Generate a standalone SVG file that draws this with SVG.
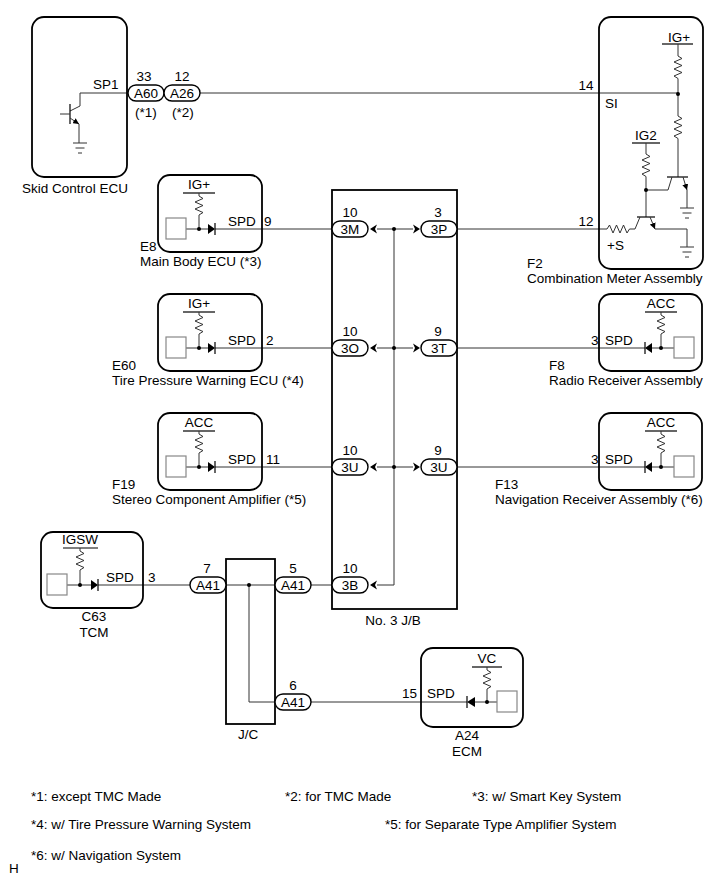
<svg xmlns="http://www.w3.org/2000/svg" width="713" height="882" viewBox="0 0 713 882">
<style>
.t{font-family:"Liberation Sans",Arial,sans-serif;font-size:13.5px;fill:#000}
.m{text-anchor:middle}
.w{stroke:#333;stroke-width:1;fill:none}
.box{stroke:#000;stroke-width:1.8;fill:none}
.pill{stroke:#000;stroke-width:1.4;fill:#fff}
.sq{stroke:#888;stroke-width:1.2;fill:#fff}
.bar{stroke:#000;stroke-width:1.2}
.dot{fill:#000}
.gnd{stroke:#333;stroke-width:1}
</style>
<defs>
<marker id="ea" markerWidth="6" markerHeight="6" refX="6" refY="3" orient="auto" markerUnits="userSpaceOnUse"><path d="M0,0 L6,3 L0,6 z" fill="#000"/></marker>
<path id="jl" d="M0,0 L7,-4.5 L5,0 L7,4.5 z" fill="#000"/>
<path id="jr" d="M0,0 L-7,-4.5 L-5,0 L-7,4.5 z" fill="#000"/>
</defs>
<rect width="713" height="882" fill="#fff"/>

<g id="connectors">
<path class="w" d="M80,93 H128"/>
<path class="w" d="M200,93 H678"/>
<path class="w" d="M215,229 H332 M377,229 H413 M457,229 H607"/>
<path class="w" d="M215,348 H332 M377,348 H413 M457,348 H645"/>
<path class="w" d="M215,467 H332 M377,467 H413 M457,467 H645"/>
<path class="w" d="M394,229 V585 H377"/>
<path class="w" d="M98,585 H190 M226,585 H275 M311,585 H332"/>
<path class="w" d="M249,585 V702 H275 M311,702 H467"/>
<circle class="dot" cx="394" cy="229" r="2"/>
<circle class="dot" cx="394" cy="348" r="2"/>
<circle class="dot" cx="394" cy="467" r="2"/>
<circle class="dot" cx="249" cy="585" r="2"/>
</g>

<g id="skid-control-ecu">
<rect class="box" x="32" y="17" width="95" height="160" rx="12"/>
<text class="t" x="93" y="89">SP1</text>
<path class="w" d="M80,93 V106 L70,111"/>
<line class="bar" x1="70" y1="104" x2="70" y2="124" stroke-width="1.5"/>
<path class="w" d="M60,114 H70"/>
<line class="w" x1="70" y1="118" x2="79" y2="124" marker-end="url(#ea)"/>
<path class="w" d="M79,124 V143"/>
<path class="gnd" d="M73,143 H87 M75.5,148 H84.5 M78,153 H82"/>
<text class="t m" x="75" y="193">Skid Control ECU</text>
</g>

<g id="conn-a60">
<rect class="pill" x="128" y="85" width="36" height="16" rx="8"/>
<text class="t m" x="146" y="98">A60</text>
<text class="t m" x="144" y="81">33</text>
<text class="t m" x="146" y="117">(*1)</text>
</g>
<g id="conn-a26">
<rect class="pill" x="164" y="85" width="36" height="16" rx="8"/>
<text class="t m" x="182" y="98">A26</text>
<text class="t m" x="182" y="81">12</text>
<text class="t m" x="183" y="117">(*2)</text>
</g>

<g id="combination-meter">
<rect class="box" x="599" y="17" width="104" height="252" rx="12"/>
<text class="t m" x="679" y="42">IG+</text>
<line class="bar" x1="662" y1="44" x2="693" y2="44"/>
<path class="w" d="M678,44 V56 l4,2.5 l-8,3.5 l8,3.5 l-8,3.5 l8,3.5 l-8,3.5 l4,2.5 V116 l4,2.5 l-8,3.5 l8,3.5 l-8,3.5 l8,3.5 l-8,3.5 l4,2.5 V177"/>
<circle class="dot" cx="678" cy="94" r="2"/>
<text class="t m" x="586" y="90">14</text>
<text class="t" x="605" y="108">SI</text>
<line class="bar" x1="667" y1="177" x2="688" y2="177" stroke-width="1.6"/>
<path class="w" d="M672,177 L668,190 H646"/>
<line class="w" x1="683" y1="177" x2="687" y2="190" marker-end="url(#ea)"/>
<path class="w" d="M687,190 V208"/>
<path class="gnd" d="M680,208 H694 M682.5,213 H691.5 M685,218 H689"/>
<text class="t m" x="646" y="140">IG2</text>
<line class="bar" x1="632" y1="143" x2="660" y2="143"/>
<path class="w" d="M646,143 V154 l4,2.5 l-8,3.5 l8,3.5 l-8,3.5 l8,3.5 l-8,3.5 l4,2.5 V217"/>
<circle class="dot" cx="646" cy="190" r="2"/>
<line class="bar" x1="637" y1="217" x2="655" y2="217" stroke-width="1.6"/>
<path class="w" d="M607,229 l2.5,-4 l3.5,8 l3.5,-8 l3.5,8 l3.5,-8 l3.5,8 l2.5,-4 H635 L640,217"/>
<line class="w" x1="650" y1="217" x2="655" y2="229" marker-end="url(#ea)"/>
<path class="w" d="M655,229 H687 V247"/>
<path class="gnd" d="M680,247 H694 M682.5,252 H691.5 M685,257 H689"/>
<text class="t m" x="586" y="226">12</text>
<text class="t" x="607" y="250">+S</text>
<text class="t" x="527" y="268">F2</text>
<text class="t" x="527" y="283">Combination Meter Assembly</text>
</g>

<g id="main-body-ecu">
<rect class="box" x="158" y="175" width="104" height="77" rx="12"/>
<text class="t m" x="199" y="189">IG+</text>
<line class="bar" x1="183" y1="193" x2="215" y2="193"/>
<path class="w" d="M199,193 V196 l4,2.5 l-8,3.5 l8,3.5 l-8,3.5 l8,3.5 l-4,2.5 V229 M186,229 H208"/>
<rect class="sq" x="166" y="218" width="20" height="21"/>
<circle class="dot" cx="199" cy="229" r="2"/>
<path d="M208,224 L208,234 L215,229 z" fill="#000"/>
<line class="bar" x1="215" y1="223" x2="215" y2="235"/>
<text class="t" x="228" y="226">SPD</text>
<text class="t" x="264" y="226">9</text>
<text class="t" x="140" y="251">E8</text>
<text class="t" x="140" y="266">Main Body ECU (*3)</text>
</g>

<g id="tire-pressure-ecu">
<rect class="box" x="158" y="294" width="104" height="77" rx="12"/>
<text class="t m" x="199" y="308">IG+</text>
<line class="bar" x1="183" y1="312" x2="215" y2="312"/>
<path class="w" d="M199,312 V315 l4,2.5 l-8,3.5 l8,3.5 l-8,3.5 l8,3.5 l-4,2.5 V348 M186,348 H208"/>
<rect class="sq" x="166" y="337" width="20" height="21"/>
<circle class="dot" cx="199" cy="348" r="2"/>
<path d="M208,343 L208,353 L215,348 z" fill="#000"/>
<line class="bar" x1="215" y1="342" x2="215" y2="354"/>
<text class="t" x="228" y="345">SPD</text>
<text class="t" x="266" y="345">2</text>
<text class="t" x="112" y="370">E60</text>
<text class="t" x="112" y="385">Tire Pressure Warning ECU (*4)</text>
</g>

<g id="stereo-amplifier">
<rect class="box" x="158" y="413" width="104" height="77" rx="12"/>
<text class="t m" x="199" y="427">ACC</text>
<line class="bar" x1="183" y1="431" x2="215" y2="431"/>
<path class="w" d="M199,431 V434 l4,2.5 l-8,3.5 l8,3.5 l-8,3.5 l8,3.5 l-4,2.5 V467 M186,467 H208"/>
<rect class="sq" x="166" y="456" width="20" height="21"/>
<circle class="dot" cx="199" cy="467" r="2"/>
<path d="M208,462 L208,472 L215,467 z" fill="#000"/>
<line class="bar" x1="215" y1="461" x2="215" y2="473"/>
<text class="t" x="228" y="464">SPD</text>
<text class="t" x="266" y="464">11</text>
<text class="t" x="112" y="489">F19</text>
<text class="t" x="112" y="504">Stereo Component Amplifier (*5)</text>
</g>

<g id="radio-receiver">
<rect class="box" x="599" y="294" width="103" height="77" rx="12"/>
<text class="t m" x="661" y="308">ACC</text>
<line class="bar" x1="645" y1="312" x2="677" y2="312"/>
<path class="w" d="M661,312 V315 l4,2.5 l-8,3.5 l8,3.5 l-8,3.5 l8,3.5 l-4,2.5 V348 M652,348 H674"/>
<rect class="sq" x="674" y="337" width="20" height="21"/>
<circle class="dot" cx="661" cy="348" r="2"/>
<path d="M652,343 L652,353 L645,348 z" fill="#000"/>
<line class="bar" x1="645" y1="342" x2="645" y2="354"/>
<text class="t" x="605" y="345">SPD</text>
<text class="t" x="591" y="345">3</text>
<text class="t" x="549" y="370">F8</text>
<text class="t" x="549" y="385">Radio Receiver Assembly</text>
</g>

<g id="navigation-receiver">
<rect class="box" x="599" y="413" width="103" height="77" rx="12"/>
<text class="t m" x="661" y="427">ACC</text>
<line class="bar" x1="645" y1="431" x2="677" y2="431"/>
<path class="w" d="M661,431 V434 l4,2.5 l-8,3.5 l8,3.5 l-8,3.5 l8,3.5 l-4,2.5 V467 M652,467 H674"/>
<rect class="sq" x="674" y="456" width="20" height="21"/>
<circle class="dot" cx="661" cy="467" r="2"/>
<path d="M652,462 L652,472 L645,467 z" fill="#000"/>
<line class="bar" x1="645" y1="461" x2="645" y2="473"/>
<text class="t" x="605" y="464">SPD</text>
<text class="t" x="591" y="464">3</text>
<text class="t" x="495" y="489">F13</text>
<text class="t" x="495" y="504">Navigation Receiver Assembly (*6)</text>
</g>

<g id="no3-jb">
<rect class="box" x="332" y="190" width="125" height="419"/>
<rect class="pill" x="332" y="221" width="36" height="16" rx="8"/>
<text class="t m" x="350" y="234">3M</text>
<text class="t m" x="350" y="217">10</text>
<use href="#jl" x="370" y="229"/>
<rect class="pill" x="421" y="221" width="36" height="16" rx="8"/>
<text class="t m" x="439" y="234">3P</text>
<text class="t m" x="438" y="217">3</text>
<use href="#jr" x="420" y="229"/>
<rect class="pill" x="332" y="340" width="36" height="16" rx="8"/>
<text class="t m" x="350" y="353">3O</text>
<text class="t m" x="350" y="336">10</text>
<use href="#jl" x="370" y="348"/>
<rect class="pill" x="421" y="340" width="36" height="16" rx="8"/>
<text class="t m" x="439" y="353">3T</text>
<text class="t m" x="438" y="336">9</text>
<use href="#jr" x="420" y="348"/>
<rect class="pill" x="332" y="459" width="36" height="16" rx="8"/>
<text class="t m" x="350" y="472">3U</text>
<text class="t m" x="350" y="455">10</text>
<use href="#jl" x="370" y="467"/>
<rect class="pill" x="421" y="459" width="36" height="16" rx="8"/>
<text class="t m" x="439" y="472">3U</text>
<text class="t m" x="438" y="455">9</text>
<use href="#jr" x="420" y="467"/>
<rect class="pill" x="332" y="577" width="36" height="16" rx="8"/>
<text class="t m" x="350" y="590">3B</text>
<text class="t m" x="350" y="573">10</text>
<use href="#jl" x="370" y="585"/>
<text class="t m" x="393" y="625">No. 3 J/B</text>
</g>

<g id="tcm">
<rect class="box" x="41" y="532" width="102" height="76" rx="12"/>
<text class="t m" x="80" y="544">IGSW</text>
<line class="bar" x1="63" y1="548" x2="98" y2="548"/>
<path class="w" d="M80,548 V551 l4,2.5 l-8,3.5 l8,3.5 l-8,3.5 l8,3.5 l-4,2.5 V585 M67,585 H91"/>
<rect class="sq" x="47" y="574" width="20" height="21"/>
<circle class="dot" cx="80" cy="585" r="2"/>
<path d="M91,580 L91,590 L98,585 z" fill="#000"/>
<line class="bar" x1="98" y1="579" x2="98" y2="591"/>
<text class="t" x="106" y="582">SPD</text>
<text class="t" x="148" y="582">3</text>
<text class="t m" x="94" y="621">C63</text>
<text class="t m" x="94" y="637">TCM</text>
</g>

<g id="jc">
<rect class="box" x="226" y="559" width="49" height="165"/>
<rect class="pill" x="190" y="577" width="36" height="16" rx="8"/>
<text class="t m" x="208" y="590">A41</text>
<text class="t m" x="207" y="573">7</text>
<rect class="pill" x="275" y="577" width="36" height="16" rx="8"/>
<text class="t m" x="293" y="590">A41</text>
<text class="t m" x="293" y="573">5</text>
<rect class="pill" x="275" y="694" width="36" height="16" rx="8"/>
<text class="t m" x="293" y="707">A41</text>
<text class="t m" x="293" y="690">6</text>
<text class="t m" x="248" y="739">J/C</text>
</g>

<g id="ecm">
<rect class="box" x="421" y="648" width="102" height="79" rx="12"/>
<text class="t m" x="487" y="663">VC</text>
<line class="bar" x1="472" y1="667" x2="502" y2="667"/>
<path class="w" d="M487,667 V670 l4,2.5 l-8,3.5 l8,3.5 l-8,3.5 l8,3.5 l-4,2.5 V702 M475,702 H497"/>
<rect class="sq" x="497" y="691" width="20" height="21"/>
<circle class="dot" cx="487" cy="702" r="2"/>
<path d="M475,697 L475,707 L467,702 z" fill="#000"/>
<line class="bar" x1="467" y1="696" x2="467" y2="708"/>
<text class="t" x="427" y="698">SPD</text>
<text class="t" x="402" y="698">15</text>
<text class="t m" x="467" y="740">A24</text>
<text class="t m" x="467" y="756">ECM</text>
</g>

<g id="notes">
<text class="t" x="31" y="801">*1: except TMC Made</text>
<text class="t" x="285" y="801">*2: for TMC Made</text>
<text class="t" x="472" y="801">*3: w/ Smart Key System</text>
<text class="t" x="31" y="829">*4: w/ Tire Pressure Warning System</text>
<text class="t" x="385" y="829">*5: for Separate Type Amplifier System</text>
<text class="t" x="31" y="860">*6: w/ Navigation System</text>
<text class="t" x="9" y="873">H</text>
</g>
</svg>
